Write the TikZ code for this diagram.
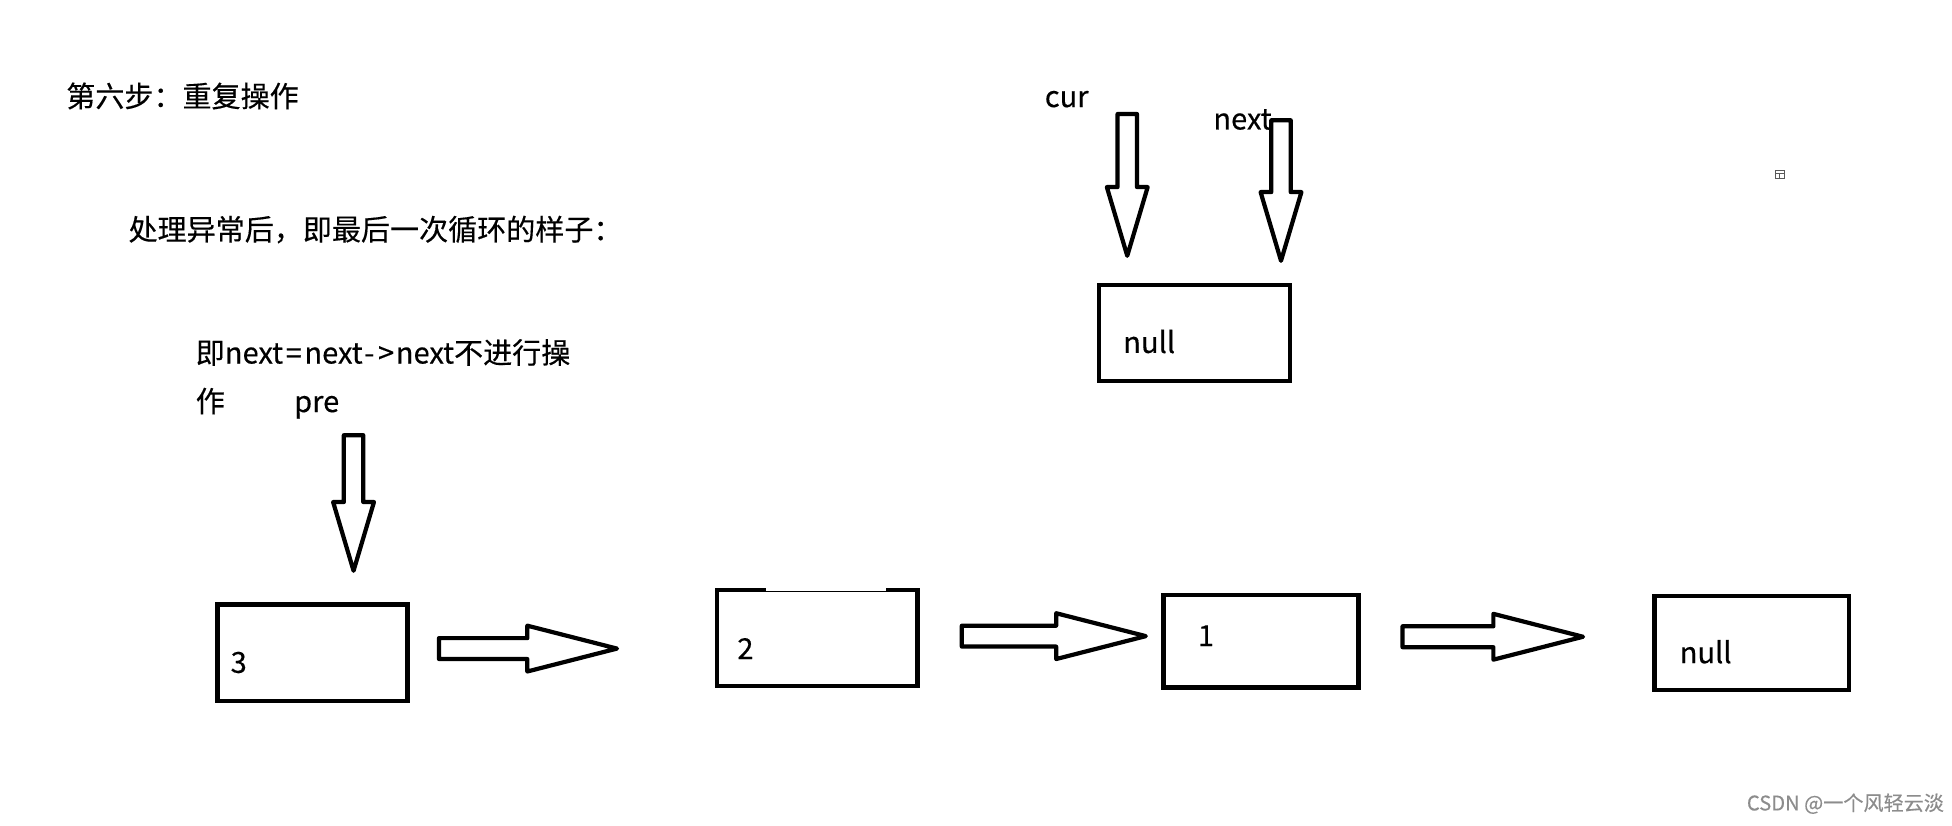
\documentclass[tikz,border=0pt]{standalone}
\usepackage{fontspec}
\setmainfont{Noto Sans CJK SC}[FakeBold=0.35]
\usetikzlibrary{calc,positioning}

% block arrow pointing right, from shaft start #1 to tip #2
\newcommand{\harr}[2]{%
  \draw[blk] ($(#1)+(0,0.21)$) -- ($(#2)+(-1.8,0.21)$) -- ($(#2)+(-1.8,0.46)$) -- (#2)
    -- ($(#2)+(-1.8,-0.46)$) -- ($(#2)+(-1.8,-0.21)$) -- ($(#1)+(0,-0.21)$) -- cycle;}
% block arrow pointing down, from shaft start #1 to tip #2
\newcommand{\varr}[2]{%
  \draw[blk] ($(#1)+(-0.195,0)$) -- ($(#2)+(-0.195,1.38)$) -- ($(#2)+(-0.41,1.38)$) -- (#2)
    -- ($(#2)+(0.41,1.38)$) -- ($(#2)+(0.195,1.38)$) -- ($(#1)+(0.195,0)$) -- cycle;}

\begin{document}
\begin{tikzpicture}[
    box/.style={rectangle, draw, line width=2.6pt, inner sep=0pt},
    blk/.style={draw, line width=2.4pt, line join=round},
    txt/.style={anchor=base west, inner sep=0pt, font=\fontsize{16.6}{19}\selectfont},
    wmark/.style={anchor=base west, inner sep=0pt, text=black!45, font=\fontsize{11.5}{14}\selectfont}
]
\path[use as bounding box, fill=white] (0,0) rectangle (39.2,16.575);

% Notes
\node (step) at (1.325,14.425) [txt] {第六步：重复操作};
\node (note1) at (2.575,11.75) [txt] {处理异常后，即最后一次循环的样子：};
\node (note2) at (3.925,9.275) [txt] {即next\kern1.5pt=\kern1.5pt next\kern1pt-\kern2pt>\kern1pt next不进行操};
\node (note3) at (3.925,8.3) [txt] {作};
\node (pre) at (5.9,8.3) [txt] {pre};

% Top: cur and next on null
\node (cur) at (20.975,14.425) [txt] {cur};
\node (next) at (24.36,13.975) [txt] {next};
\node (topnull) at (23.9875,9.8875) [box, minimum width=3.835cm, minimum height=1.935cm] {};
\node (topnullt) at (22.55,9.4875) [txt] {null};

\coordinate (curs) at (22.6375,14.285);
\coordinate (curt) at (22.6375,11.4375);
\coordinate (nexts) at (25.725,14.16);
\coordinate (nextt) at (25.725,11.3375);
\varr{curs}{curt}
\varr{nexts}{nextt}

% List nodes
\node (n3) at (6.275,3.4625) [box, minimum width=3.81cm, minimum height=1.935cm] {};
\node (n2) at (16.4125,3.7625) [box, draw=none, minimum width=3.935cm, minimum height=1.835cm] {};
\node (n1) at (25.325,3.7) [box, minimum width=3.91cm, minimum height=1.86cm] {};
\node (n0) at (35.175,3.6625) [box, minimum width=3.91cm, minimum height=1.885cm] {};

% node 2 has a thin piece in its top edge
\draw[line width=2.6pt] ($(n2.north west)+(0.975,0)$) -- (n2.north west) -- (n2.south west)
  -- (n2.south east) -- (n2.north east) -- ++(-0.625,0);
\draw[line width=0.6pt] ($(n2.north west)+(0.9,-0.035)$) -- ($(n2.north east)+(-0.55,-0.035)$);

\node (n3t) at (4.625,3.0625) [txt] {3};
\node (n2t) at (14.8,3.3375) [txt] {2};
\node (n1t) at (24.05,3.6) [txt] {1};
\node (n0t) at (33.725,3.2575) [txt] {null};

% pre pointer
\coordinate (pres) at (7.1,7.835);
\coordinate (pret) at (7.1,5.1125);
\varr{pres}{pret}

% links
\coordinate (l1s) at (8.815,3.55);
\coordinate (l1t) at (12.39,3.55);
\coordinate (l2s) at (19.315,3.8);
\coordinate (l2t) at (23.01,3.8);
\coordinate (l3s) at (28.165,3.7875);
\coordinate (l3t) at (31.79,3.7875);
\harr{l1s}{l1t}
\harr{l2s}{l2t}
\harr{l3s}{l3t}

% small icon
\draw[line width=0.5pt, black!65] (35.65,13.0) rectangle (35.825,13.15);
\draw[line width=0.5pt, black!65] (35.65,13.1) -- (35.825,13.1) (35.7375,13.0) -- (35.7375,13.1);

% watermark
\node (wm) at (35.075,0.3) [wmark] {CSDN @一个风轻云淡};

\end{tikzpicture}
\end{document}
